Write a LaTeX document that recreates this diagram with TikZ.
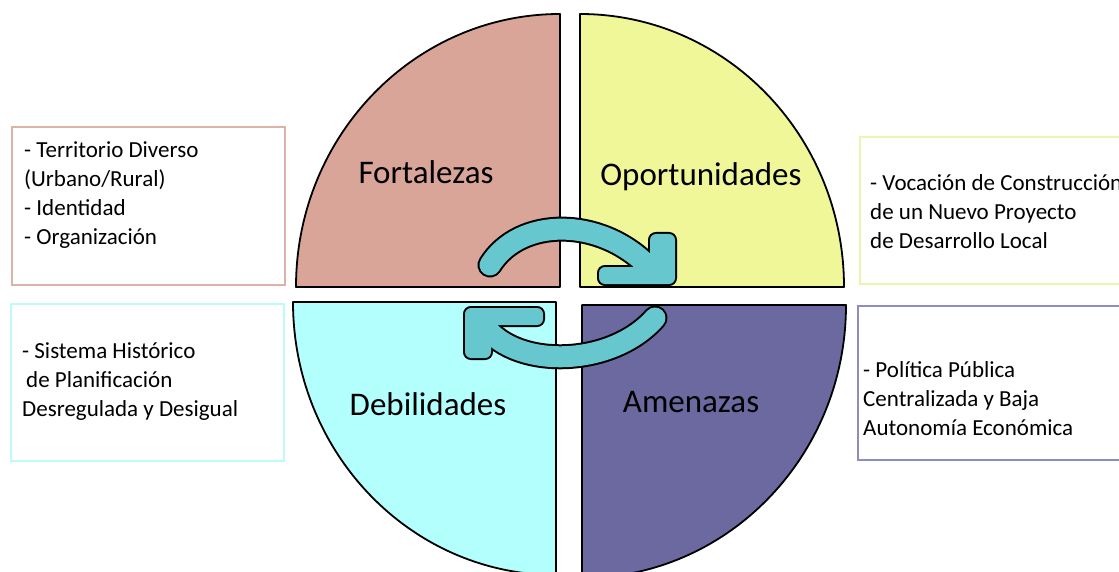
\documentclass[tikz,border=0pt]{standalone}
\usepackage{fontspec}
\setmainfont{Carlito}
\definecolor{fcol}{HTML}{D8A598}
\definecolor{ocol}{HTML}{F0F799}
\definecolor{dcol}{HTML}{B3FFFE}
\definecolor{acol}{HTML}{6B699F}
\definecolor{arrcol}{HTML}{66C7CF}
\definecolor{fbord}{HTML}{DDB3A6}
\definecolor{obord}{HTML}{EEF3AE}
\definecolor{dbord}{HTML}{BDFAFA}
\definecolor{abord}{HTML}{8E8DC2}
\tikzset{
  quad/.style={draw=black,line width=1.8pt,line join=round},
  infobox/.style={line width=1.8pt},
  boxtext/.style={anchor=base west,inner sep=0pt,align=left,font=\fontsize{23}{29}\selectfont},
  title/.style={anchor=base,inner sep=0pt,font=\fontsize{33}{36}\selectfont},
  bodyout/.style={draw=black,line width=25pt,line cap=round},
  bodyin/.style={draw=arrcol,line width=21pt,line cap=round},
  headout/.style={fill=black,draw=black,line width=4pt,rounded corners=6pt},
  headin/.style={fill=arrcol,rounded corners=6pt}
}
\begin{document}
\begin{tikzpicture}[x=1pt,y=-1pt]
\useasboundingbox (0,0) rectangle (1119,572);
\fill[white] (0,0) rectangle (1119,572);
% quadrants
\filldraw[quad,fill=fcol] (560,287) -- (296,287) arc[start angle=180,end angle=90,x radius=264pt,y radius=273pt] -- cycle;
\filldraw[quad,fill=ocol] (580,287) -- (580,14) arc[start angle=90,end angle=0,x radius=264pt,y radius=273pt] -- cycle;
\filldraw[quad,fill=dcol] (556,302) -- (293,302) arc[start angle=180,end angle=270,x radius=263pt,y radius=273pt] -- cycle;
\filldraw[quad,fill=acol] (582,305) -- (846,305) arc[start angle=0,end angle=-90,x radius=264pt,y radius=273pt] -- cycle;
% titles
\node[title] (fort) at (426,184) {Fortalezas};
\node[title] (opor) at (701,186) {Oportunidades};
\node[title] (debi) at (428,415) {Debilidades};
\node[title] (amen) at (691,412) {Amenazas};
% arrows
\coordinate (t1) at (490,265);
\coordinate (t2) at (648,266);
\coordinate (b1) at (655,318);
\coordinate (b2) at (482,322);
\draw[bodyout] (t1) .. controls (520,217) and (600,217) .. (t2);
\path[headout] (599,267) -- (650,267) -- (650,234) -- (675,234) -- (675,284) -- (599,284) -- cycle;
\draw[bodyout] (b1) .. controls (610,369) and (510,369) .. (b2);
\path[headout] (465,308) -- (543,308) -- (543,325) -- (491,325) -- (491,358) -- (465,358) -- cycle;
\draw[bodyin] (t1) .. controls (520,217) and (600,217) .. (t2);
\path[headin] (599,267) -- (650,267) -- (650,234) -- (675,234) -- (675,284) -- (599,284) -- cycle;
\draw[bodyin] (b1) .. controls (610,369) and (510,369) .. (b2);
\path[headin] (465,308) -- (543,308) -- (543,325) -- (491,325) -- (491,358) -- (465,358) -- cycle;
% info boxes
\draw[infobox,draw=fbord] (12,127) rectangle (285,285);
\draw[infobox,draw=dbord] (11,304) rectangle (284,461);
\draw[infobox,draw=obord] (860,137) rectangle (1135,284);
\draw[infobox,draw=abord] (858,306) rectangle (1135,460);
\node[boxtext] (ft) at (24,244) {- Territorio Diverso\\(Urbano/Rural)\\- Identidad\\- Organización};
\node[boxtext] (dt) at (22,416) {- Sistema Histórico\\\hspace*{4pt}de Planificación\\Desregulada y Desigual};
\node[boxtext] (ot) at (870,248) {- Vocación de Construcción\\de un Nuevo Proyecto\\de Desarrollo Local};
\node[boxtext] (at) at (863,435) {- Política Pública\\Centralizada y Baja\\Autonomía Económica};
\end{tikzpicture}
\end{document}
